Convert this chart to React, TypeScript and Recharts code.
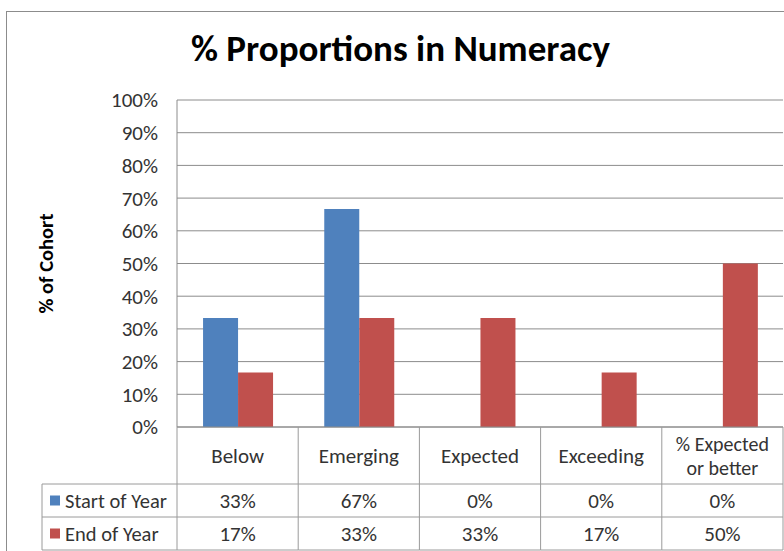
import { Bar, BarChart, CartesianGrid, XAxis, YAxis } from "recharts"

const categories = ["Below", "Emerging", "Expected", "Exceeding", "% Expected\nor better"]
const startOfYear = [33.3, 66.7, 0, 0, 0]
const endOfYear = [16.7, 33.3, 33.3, 16.7, 50]
const seriesNames = ["Start of Year", "End of Year"]
const seriesColors = ["#4F81BD", "#C0504D"]
const yTicks = [0, 10, 20, 30, 40, 50, 60, 70, 80, 90, 100]

const data = categories.map((name, i) => ({ name, start: startOfYear[i], end: endOfYear[i] }))
const rows = [startOfYear, endOfYear]

const FONT = "Carlito, Lato, sans-serif"
const TEXT = "#333333"
const LINE = "#9a9a9a"
const PLOT_LEFT = 177
const PLOT_RIGHT = 783
const CELL_W = (PLOT_RIGHT - PLOT_LEFT) / categories.length
const HEADER_H = 57
const ROW_H = 33
const LEGEND_LEFT = 42

// x axis ticks draw the data table under each category
function TableTick(props: any) {
  const { x, y, payload, index } = props
  const left = x - CELL_W / 2
  const right = x + CELL_W / 2
  const lines = String(payload.value).split("\n")
  const mid = y + HEADER_H / 2
  const rowTops = [y + HEADER_H, y + HEADER_H + ROW_H, y + HEADER_H + 2 * ROW_H]
  return (
    <g fontFamily={FONT}>
      <line x1={right} y1={y} x2={right} y2={rowTops[2]} stroke={LINE} />
      {index === 0 && (
        <g>
          <line x1={left} y1={y} x2={left} y2={rowTops[2]} stroke={LINE} />
          <line x1={LEGEND_LEFT} y1={rowTops[0]} x2={LEGEND_LEFT} y2={rowTops[2]} stroke={LINE} />
          {rowTops.map((t) => (
            <line key={t} x1={LEGEND_LEFT} y1={t} x2={left} y2={t} stroke={LINE} />
          ))}
          {seriesNames.map((s, r) => (
            <g key={s}>
              <rect x={LEGEND_LEFT + 8} y={rowTops[r] + ROW_H / 2 - 5} width={10} height={10} fill={seriesColors[r]} />
              <text x={LEGEND_LEFT + 23} y={rowTops[r] + ROW_H / 2} dominantBaseline="central" fontSize={20.5} fill={TEXT}>
                {s}
              </text>
            </g>
          ))}
        </g>
      )}
      {rowTops.map((t) => (
        <line key={t} x1={left} y1={t} x2={right} y2={t} stroke={LINE} />
      ))}
      <text x={x} textAnchor="middle" fontSize={lines.length > 1 ? 20 : 21} fill={TEXT}>
        {lines.map((l, i) => (
          <tspan key={l} x={x} y={mid + (i - (lines.length - 1) / 2) * 24} dominantBaseline="central">
            {l}
          </tspan>
        ))}
      </text>
      {rows.map((vals, r) => (
        <text
          key={r}
          x={x}
          y={rowTops[r] + ROW_H / 2}
          textAnchor="middle"
          dominantBaseline="central"
          fontSize={21}
          fill={TEXT}
        >
          {`${Math.round(vals[index])}%`}
        </text>
      ))}
    </g>
  )
}

export default function App() {
  return (
    <div style={{ position: "absolute", left: 0, top: 0, width: 784, height: 551, overflow: "hidden", background: "#fff" }}>
      <div
        style={{
          position: "absolute",
          left: 6,
          top: 11,
          width: 900,
          height: 700,
          borderLeft: "1px solid #8c8c8c",
          borderTop: "1px solid #8c8c8c",
        }}
      />
      <BarChart
        width={784}
        height={551}
        data={data}
        margin={{ top: 100, right: 1, bottom: 0, left: 46 }}
        barCategoryGap="21.5%"
        barGap={0}
        style={{ position: "absolute", left: 0, top: 0 }}
      >
        <CartesianGrid vertical={false} stroke="#8c8c8c" />
        <XAxis
          dataKey="name"
          height={124}
          interval={0}
          tickLine={false}
          tickSize={0}
          tickMargin={0}
          axisLine={{ stroke: "#8c8c8c" }}
          tick={<TableTick />}
        />
        <YAxis
          width={131}
          domain={[0, 100]}
          ticks={yTicks}
          tickFormatter={(v) => `${v}%`}
          tickLine={false}
          tickSize={0}
          tickMargin={19}
          axisLine={{ stroke: "#8c8c8c" }}
          tick={{ fill: TEXT, fontSize: 21, fontFamily: FONT }}
          label={{
            value: "% of Cohort",
            angle: -90,
            position: "insideLeft",
            offset: 0,
            style: { textAnchor: "middle", fontFamily: FONT, fontWeight: 700, fontSize: 20.5, fill: "#000" },
          }}
        />
        <Bar dataKey="start" name={seriesNames[0]} fill={seriesColors[0]} isAnimationActive={false} />
        <Bar dataKey="end" name={seriesNames[1]} fill={seriesColors[1]} isAnimationActive={false} />
      </BarChart>
      <div
        style={{
          position: "absolute",
          left: 0,
          top: 27,
          width: 801,
          textAlign: "center",
          fontFamily: FONT,
          fontWeight: 700,
          fontSize: 37,
          color: "#000",
          lineHeight: 1.2,
        }}
      >
        % Proportions in Numeracy
      </div>
    </div>
  )
}
